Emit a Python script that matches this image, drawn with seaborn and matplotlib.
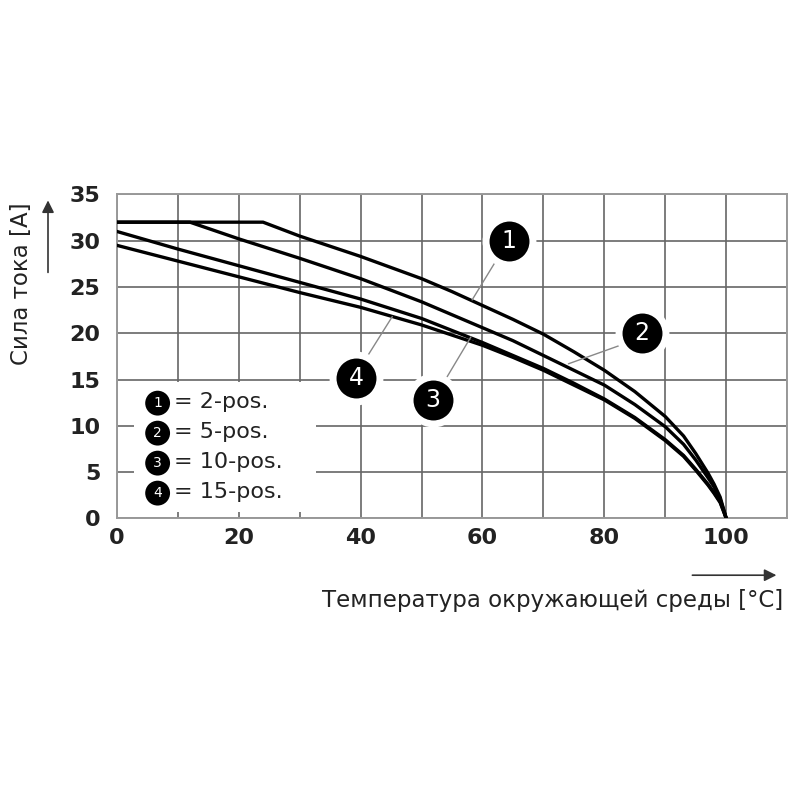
import numpy as np
import pandas as pd
import matplotlib
matplotlib.use("Agg")
import matplotlib.pyplot as plt
import seaborn as sns

x1 = [0, 10, 20, 24, 30, 40, 50, 55, 60, 65, 70, 75, 80, 85, 90, 93, 95, 97, 98, 99, 100]
y1 = [32, 32, 32, 32, 30.5, 28.3, 25.9, 24.5, 23.0, 21.5, 19.9, 18.0, 16.0, 13.7, 11.0, 8.9, 7.0, 4.9, 3.7, 2.3, 0]
x2 = [0, 10, 12, 20, 30, 40, 50, 55, 60, 65, 70, 75, 80, 85, 90, 93, 95, 97, 98, 99, 100]
y2 = [32, 32, 32, 30.2, 28.1, 25.9, 23.4, 22.0, 20.6, 19.2, 17.6, 16.0, 14.4, 12.3, 9.9, 8.0, 6.3, 4.4, 3.4, 2.1, 0]
x3 = [0, 10, 20, 30, 40, 50, 55, 60, 65, 70, 75, 80, 85, 90, 93, 95, 97, 98, 99, 100]
y3 = [31.0, 29.1, 27.3, 25.5, 23.7, 21.6, 20.3, 19.0, 17.6, 16.2, 14.6, 12.9, 10.9, 8.5, 6.8, 5.3, 3.7, 2.8, 1.8, 0]
x4 = [0, 10, 20, 30, 40, 50, 55, 60, 65, 70, 75, 80, 85, 90, 93, 95, 97, 98, 99, 100]
y4 = [29.5, 27.8, 26.1, 24.4, 22.8, 20.9, 19.8, 18.7, 17.4, 16.0, 14.4, 12.8, 10.8, 8.4, 6.7, 5.2, 3.6, 2.7, 1.7, 0]

series = ["1", "2", "3", "4"]
legend_labels = ["= 2-pos.", "= 5-pos.", "= 10-pos.", "= 15-pos."]

# callout circle centres and leader line ends (data units)
callout_xy = [(64.3, 30.0), (86.1, 20.0), (51.9, 12.8), (39.3, 15.2)]
leader_from = [(62.1, 27.7), (82.6, 18.7), (54.2, 15.3), (41.1, 17.5)]
leader_to = [(58.3, 23.6), (74.1, 16.7), (58.1, 19.6), (45.2, 21.8)]

x_ticks = [0, 20, 40, 60, 80, 100]
y_ticks = [0, 5, 10, 15, 20, 25, 30, 35]

df = pd.concat([
    pd.DataFrame({"T": x1, "I": y1, "s": "1"}),
    pd.DataFrame({"T": x2, "I": y2, "s": "2"}),
    pd.DataFrame({"T": x3, "I": y3, "s": "3"}),
    pd.DataFrame({"T": x4, "I": y4, "s": "4"}),
])

sns.set_theme(style="white")
plt.rcParams['font.family'] = ['DejaVu Sans']

fig = plt.figure(figsize=(8, 8), dpi=100)
ax = fig.add_axes([0.146, 0.352, 0.838, 0.405])

sns.lineplot(data=df, x="T", y="I", hue="s", palette=["black"] * 4,
             linewidth=2.4, legend=False, ax=ax, sort=False, zorder=3)

ax.set_xlim(0, 110)
ax.set_ylim(0, 35)
ax.set_xticks(np.arange(0, 111, 10))
ax.set_yticks(y_ticks)
ax.set_xticklabels([str(v) if v in x_ticks else "" for v in range(0, 111, 10)],
                   fontsize=16, fontweight="bold", color="#222")
ax.set_yticklabels([str(v) for v in y_ticks], fontsize=16, fontweight="bold", color="#222")
ax.tick_params(axis="x", length=0, pad=7)
ax.tick_params(axis="y", length=0, pad=12)
ax.grid(True, color="#666", linewidth=1.2)
ax.set_axisbelow(True)
for sp in ax.spines.values():
    sp.set_color("#999")
    sp.set_linewidth(1.4)
ax.set_xlabel("")
ax.set_ylabel("")

# white patch behind the key
ax.add_patch(plt.Rectangle((2.9, 0.7), 29.8, 14.0, facecolor="white",
                           edgecolor="none", zorder=2))

# key entries
for i, (s, lab) in enumerate(zip(series, legend_labels)):
    yy = 12.45 - i * 3.24
    ax.scatter([6.7], [yy], s=320, color="black", zorder=5, edgecolors="none")
    ax.text(6.7, yy, s, color="white", fontsize=10, ha="center", va="center", zorder=6)
    ax.text(9.4, yy + 0.1, lab, fontsize=16, color="#222", ha="left", va="center", zorder=6)

# callouts
for s, (cx, cy), (fx, fy), (tx, ty) in zip(series, callout_xy, leader_from, leader_to):
    ax.plot([fx, tx], [fy, ty], color="#888", linewidth=1.0, zorder=4)
    ax.scatter([cx], [cy], s=1140, color="black", edgecolors="white",
               linewidths=5, zorder=6)
    ax.text(cx, cy, s, color="white", fontsize=17, ha="center", va="center", zorder=7)

# axis titles with arrows
fig.text(0.0275, 0.646, "Сила тока [A]", rotation=90, fontsize=16.5,
         color="#222", ha="center", va="center")
fig.text(0.979, 0.25, "Температура окружающей среды [°C]", fontsize=16.5,
         color="#222", ha="right", va="center")
fig.patches.append(matplotlib.patches.FancyArrowPatch(
    (0.06, 0.656), (0.06, 0.753), transform=fig.transFigure,
    arrowstyle="-|>", mutation_scale=18, color="#333", linewidth=1.2))
fig.patches.append(matplotlib.patches.FancyArrowPatch(
    (0.862, 0.281), (0.974, 0.281), transform=fig.transFigure,
    arrowstyle="-|>", mutation_scale=18, color="#333", linewidth=1.2))

fig.savefig("out.png", dpi=100, facecolor="white")
